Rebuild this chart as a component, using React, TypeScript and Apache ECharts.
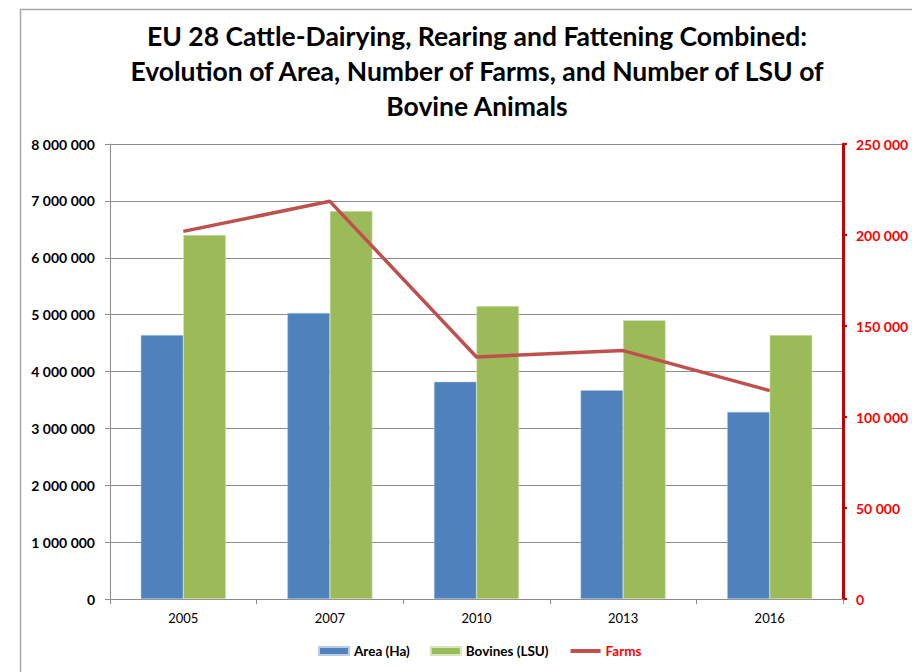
import React, { useEffect, useRef } from "react";
import * as echarts from "echarts";

const years = ["2005", "2007", "2010", "2013", "2016"];
const areaHa = [4640000, 5030000, 3820000, 3670000, 3290000];
const bovinesLSU = [6400000, 6820000, 5150000, 4900000, 4640000];
const farms = [202000, 218500, 133000, 136500, 114500];

const titleText =
  "EU 28 Cattle-Dairying, Rearing and Fattening Combined:\nEvolution of Area, Number of Farms, and Number of LSU of\nBovine Animals";

const FONT = "Lato, 'Open Sans', sans-serif";

const fmt = (v: number) => String(Math.round(v)).replace(/\B(?=(\d{3})+(?!\d))/g, " ");

export default function App() {
  const ref = useRef<HTMLDivElement>(null);
  useEffect(() => {
    if (!ref.current) return;
    const chart = echarts.init(ref.current, undefined, { renderer: "svg" });
    chart.setOption({
      animation: false,
      backgroundColor: "#ffffff",
      textStyle: { fontFamily: FONT },
      title: {
        text: titleText,
        left: 472,
        textAlign: "center",
        top: 13,
        textStyle: {
          fontFamily: FONT,
          fontWeight: "bold",
          fontSize: 26.5,
          lineHeight: 35,
          color: "#000000",
        },
      },
      graphic: [
        {
          type: "rect",
          shape: { x: 20.5, y: 9.5, width: 920, height: 700 },
          style: { fill: "none", stroke: "#a6a6a6", lineWidth: 1.5 },
          silent: true,
          z: -1,
        },
      ],
      legend: {
        bottom: 9,
        left: 313,
        itemWidth: 30,
        itemHeight: 8,
        itemGap: 20,
        textStyle: { fontFamily: FONT, fontWeight: "bold", fontSize: 13.5, color: "#000" },
        data: [
          { name: "Area (Ha)", icon: "rect" },
          { name: "Bovines (LSU)", icon: "rect" },
          {
            name: "Farms",
            textStyle: { color: "#ff0000" },
            itemStyle: { opacity: 0, borderWidth: 0 },
            lineStyle: { width: 4, color: "#c0504d" },
          },
        ],
      },
      grid: { left: 110, right: 69, top: 144, bottom: 73, containLabel: false },
      xAxis: {
        type: "category",
        data: years,
        axisLine: { lineStyle: { color: "#8c8c8c", width: 1 } },
        axisTick: { show: true, length: 5, lineStyle: { color: "#8c8c8c" } },
        axisLabel: { color: "#000", fontSize: 13, margin: 12, fontFamily: FONT },
      },
      yAxis: [
        {
          type: "value",
          min: 0,
          max: 8000000,
          interval: 1000000,
          axisLine: { show: true, lineStyle: { color: "#8c8c8c" } },
          axisTick: { show: true, length: 5, lineStyle: { color: "#8c8c8c" } },
          splitLine: { lineStyle: { color: "#8c8c8c", width: 1 } },
          axisLabel: {
            color: "#000",
            fontWeight: "bold",
            fontSize: 14,
            margin: 15,
            fontFamily: FONT,
            formatter: fmt,
          },
        },
        {
          type: "value",
          min: 0,
          max: 250000,
          interval: 50000,
          position: "right",
          axisLine: { show: true, lineStyle: { color: "#c00000", width: 3 } },
          axisTick: { show: true, length: 4, lineStyle: { color: "#c00000", width: 2 } },
          splitLine: { show: false },
          axisLabel: {
            color: "#ff0000",
            fontWeight: "bold",
            fontSize: 14,
            margin: 13,
            fontFamily: FONT,
            formatter: fmt,
          },
        },
      ],
      series: [
        {
          name: "Area (Ha)",
          type: "bar",
          data: areaHa,
          barGap: "0%",
          barCategoryGap: "42%",
          itemStyle: { color: "#4f81bd", borderColor: "#b9cde5", borderWidth: 0.5 },
        },
        {
          name: "Bovines (LSU)",
          type: "bar",
          data: bovinesLSU,
          itemStyle: { color: "#9bbb59", borderColor: "#d7e4bd", borderWidth: 0.5 },
        },
        {
          name: "Farms",
          type: "line",
          yAxisIndex: 1,
          data: farms,
          symbol: "none",
          lineStyle: { color: "#c0504d", width: 3.5 },
          itemStyle: { color: "#c0504d" },
          z: 5,
        },
      ],
    });
    return () => chart.dispose();
  }, []);
  return <div ref={ref} style={{ width: 912, height: 672, position: "absolute", left: 0, top: 0 }} />;
}
